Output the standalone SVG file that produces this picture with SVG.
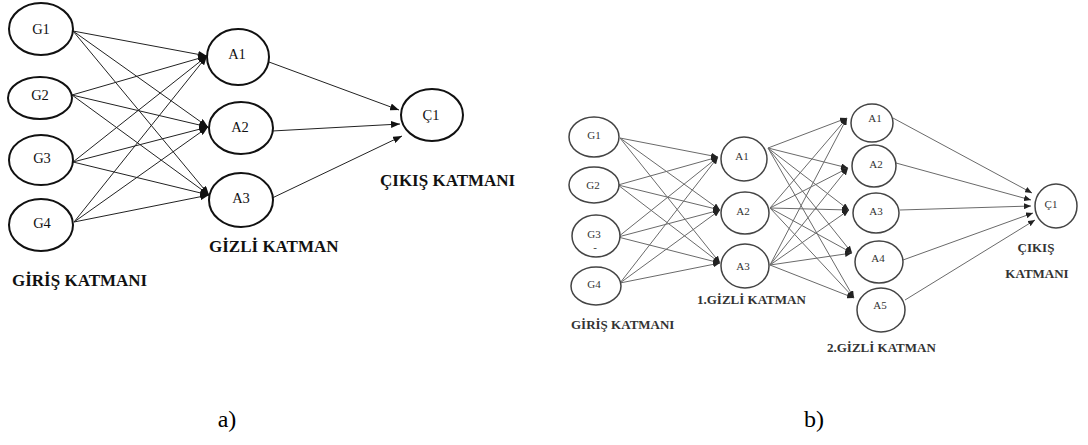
<svg xmlns="http://www.w3.org/2000/svg" width="1088" height="445" viewBox="0 0 1088 445">
  <style>
    .na { fill: #fff; stroke: #111; stroke-width: 2; }
    .nb { fill: #fff; stroke: #444; stroke-width: 1.5; }
    .ea { stroke: #222; stroke-width: 1; fill: none; marker-end: url(#ha); }
    .eb { stroke: #6a6a6a; stroke-width: 1; fill: none; marker-end: url(#hb); }
    .la { font-size: 14.5px; fill: #111; text-anchor: middle; }
    .lb { font-size: 11px; fill: #333; text-anchor: middle; }
    .ta { font-size: 17px; font-weight: bold; fill: #111; }
    .tb { font-size: 13px; font-weight: bold; fill: #333; }
    .cap { font-size: 24px; fill: #000; text-anchor: middle; }
  </style>
  <defs>
    <marker id="ha" viewBox="0 0 9 7" refX="9" refY="3.5" markerWidth="9" markerHeight="7" markerUnits="userSpaceOnUse" orient="auto">
      <path d="M0,0 L9,3.5 L0,7 z" fill="#111"/>
    </marker>
    <marker id="hb" viewBox="0 0 7 6" refX="7" refY="3" markerWidth="7" markerHeight="6" markerUnits="userSpaceOnUse" orient="auto">
      <path d="M0,0 L7,3 L0,6 z" fill="#222"/>
    </marker>
  </defs>

  <!-- (a) single hidden layer network: connectors -->
  <g id="edges-a">
    <line class="ea" x1="73" y1="31" x2="207" y2="56"/>
    <line class="ea" x1="73" y1="31" x2="208" y2="127"/>
    <line class="ea" x1="73" y1="31" x2="209" y2="195"/>
    <line class="ea" x1="72" y1="95" x2="207" y2="56"/>
    <line class="ea" x1="72" y1="95" x2="208" y2="127"/>
    <line class="ea" x1="72" y1="95" x2="209" y2="195"/>
    <line class="ea" x1="73" y1="162" x2="207" y2="56"/>
    <line class="ea" x1="73" y1="162" x2="208" y2="127"/>
    <line class="ea" x1="73" y1="162" x2="209" y2="195"/>
    <line class="ea" x1="74" y1="222" x2="207" y2="56"/>
    <line class="ea" x1="74" y1="222" x2="208" y2="127"/>
    <line class="ea" x1="74" y1="222" x2="209" y2="195"/>
    <line class="ea" x1="269" y1="62" x2="399" y2="110"/>
    <line class="ea" x1="272" y1="131" x2="400" y2="124"/>
    <line class="ea" x1="268" y1="200" x2="402" y2="136"/>
  </g>

  <g font-family="Liberation Serif, Times New Roman, serif">
  <!-- (a) nodes -->
  <g id="a-G1"><ellipse class="na" cx="41" cy="29" rx="32" ry="26"/><text class="la" x="41" y="34">G1</text></g>
  <g id="a-G2"><ellipse class="na" cx="40" cy="98" rx="32" ry="21"/><text class="la" x="40" y="100">G2</text></g>
  <g id="a-G3"><ellipse class="na" cx="41" cy="160" rx="32" ry="25"/><text class="la" x="42" y="163">G3</text></g>
  <g id="a-G4"><ellipse class="na" cx="41" cy="225" rx="32" ry="26"/><text class="la" x="42" y="228">G4</text></g>
  <g id="a-A1"><ellipse class="na" cx="238" cy="57" rx="31" ry="28"/><text class="la" x="237" y="59">A1</text></g>
  <g id="a-A2"><ellipse class="na" cx="241" cy="128" rx="32" ry="26"/><text class="la" x="240" y="132">A2</text></g>
  <g id="a-A3"><ellipse class="na" cx="241" cy="200" rx="32" ry="27"/><text class="la" x="241" y="203">A3</text></g>
  <g id="a-C1"><ellipse class="na" cx="432" cy="115" rx="31" ry="26"/><text class="la" x="431" y="120">Ç1</text></g>

  <!-- (a) layer titles -->
  <g id="a-titles">
    <text class="ta" x="12" y="286">GİRİŞ KATMANI</text>
    <text class="ta" x="209" y="252">GİZLİ KATMAN</text>
    <text class="ta" x="380" y="186">ÇIKIŞ KATMANI</text>
  </g>
  </g>

  <!-- (b) two hidden layer network: connectors -->
  <g id="edges-b">
    <line class="eb" x1="620" y1="138" x2="718" y2="157"/>
    <line class="eb" x1="620" y1="138" x2="720" y2="210"/>
    <line class="eb" x1="620" y1="138" x2="720" y2="263"/>
    <line class="eb" x1="618" y1="185" x2="718" y2="157"/>
    <line class="eb" x1="618" y1="185" x2="720" y2="210"/>
    <line class="eb" x1="618" y1="185" x2="720" y2="263"/>
    <line class="eb" x1="618" y1="237" x2="718" y2="157"/>
    <line class="eb" x1="618" y1="237" x2="720" y2="210"/>
    <line class="eb" x1="618" y1="237" x2="720" y2="263"/>
    <line class="eb" x1="620" y1="283" x2="718" y2="157"/>
    <line class="eb" x1="620" y1="283" x2="720" y2="210"/>
    <line class="eb" x1="620" y1="283" x2="720" y2="263"/>

    <line class="eb" x1="768" y1="148" x2="847" y2="118"/>
    <line class="eb" x1="768" y1="148" x2="848" y2="168"/>
    <line class="eb" x1="768" y1="148" x2="849" y2="210"/>
    <line class="eb" x1="768" y1="148" x2="852" y2="253"/>
    <line class="eb" x1="768" y1="148" x2="854" y2="298"/>
    <line class="eb" x1="770" y1="208" x2="847" y2="118"/>
    <line class="eb" x1="770" y1="208" x2="848" y2="168"/>
    <line class="eb" x1="770" y1="208" x2="849" y2="210"/>
    <line class="eb" x1="770" y1="208" x2="852" y2="253"/>
    <line class="eb" x1="770" y1="208" x2="854" y2="298"/>
    <line class="eb" x1="770" y1="265" x2="847" y2="118"/>
    <line class="eb" x1="770" y1="265" x2="848" y2="168"/>
    <line class="eb" x1="770" y1="265" x2="849" y2="210"/>
    <line class="eb" x1="770" y1="265" x2="852" y2="253"/>
    <line class="eb" x1="770" y1="265" x2="854" y2="298"/>

    <line class="eb" x1="893" y1="118" x2="1032" y2="193"/>
    <line class="eb" x1="896" y1="163" x2="1031" y2="200"/>
    <line class="eb" x1="900" y1="210" x2="1031" y2="206"/>
    <line class="eb" x1="903" y1="260" x2="1033" y2="213"/>
    <line class="eb" x1="905" y1="300" x2="1035" y2="220"/>
  </g>

  <g font-family="Liberation Serif, Times New Roman, serif">
  <!-- (b) nodes -->
  <g id="b-G1"><ellipse class="nb" cx="594" cy="137" rx="25" ry="20"/><text class="lb" x="594" y="139">G1</text></g>
  <g id="b-G2"><ellipse class="nb" cx="594" cy="185" rx="25" ry="18"/><text class="lb" x="593" y="189">G2</text></g>
  <g id="b-G3"><ellipse class="nb" cx="596" cy="236" rx="24" ry="21"/><text class="lb" x="594" y="238">G3</text><text class="lb" x="595" y="251" font-size="7">-</text></g>
  <g id="b-G4"><ellipse class="nb" cx="596" cy="286" rx="25" ry="19"/><text class="lb" x="594" y="288">G4</text></g>
  <g id="b-H1-A1"><ellipse class="nb" cx="744" cy="159" rx="23" ry="22"/><text class="lb" x="742" y="160">A1</text></g>
  <g id="b-H1-A2"><ellipse class="nb" cx="745" cy="213" rx="24" ry="21"/><text class="lb" x="743" y="215">A2</text></g>
  <g id="b-H1-A3"><ellipse class="nb" cx="745" cy="266" rx="24" ry="22"/><text class="lb" x="743" y="270">A3</text></g>
  <g id="b-H2-A1"><ellipse class="nb" cx="872" cy="123" rx="21" ry="19"/><text class="lb" x="875" y="122">A1</text></g>
  <g id="b-H2-A2"><ellipse class="nb" cx="874" cy="166" rx="22" ry="21"/><text class="lb" x="876" y="168">A2</text></g>
  <g id="b-H2-A3"><ellipse class="nb" cx="876" cy="213" rx="23" ry="20"/><text class="lb" x="876" y="215">A3</text></g>
  <g id="b-H2-A4"><ellipse class="nb" cx="879" cy="262" rx="24" ry="21"/><text class="lb" x="878" y="262">A4</text></g>
  <g id="b-H2-A5"><ellipse class="nb" cx="881" cy="310" rx="24" ry="22"/><text class="lb" x="880" y="309">A5</text></g>
  <g id="b-C1"><ellipse class="nb" cx="1056" cy="206" rx="21" ry="22"/><text class="lb" x="1051" y="208">Ç1</text></g>

  <!-- (b) layer titles -->
  <g id="b-titles">
    <text class="tb" x="571" y="329">GİRİŞ KATMANI</text>
    <text class="tb" x="697" y="304">1.GİZLİ KATMAN</text>
    <text class="tb" x="827" y="352">2.GİZLİ KATMAN</text>
    <text class="tb" x="1036" y="252" text-anchor="middle">ÇIKIŞ</text>
    <text class="tb" x="1037" y="278" text-anchor="middle">KATMANI</text>
  </g>

  <!-- panel captions -->
  <text class="cap" x="227" y="427">a)</text>
  <text class="cap" x="814" y="427">b)</text>
  </g>
</svg>
